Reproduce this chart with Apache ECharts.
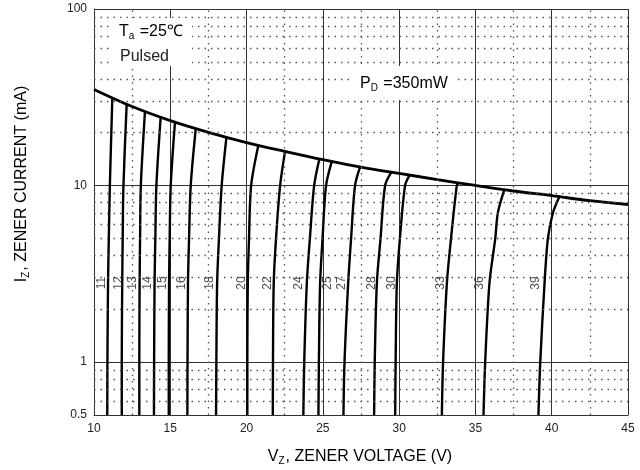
<!DOCTYPE html>
<html><head><meta charset="utf-8">
<script src="https://cdn.jsdelivr.net/npm/echarts@6/dist/echarts.min.js"></script>
<style>html,body{margin:0;padding:0;background:#fff}#c{width:640px;height:470px}</style>
</head><body><div id="c"></div>
<script>
// ---- data ----
const xAxisMin = 10, xAxisMax = 45, xAxisStep = 5;
const yAxisMin = 0.5, yAxisMax = 100;

// power-dissipation limit (PD = 350 mW)
const pdVoltage = [10, 12.5, 15, 17.5, 20, 22.5, 25, 27.5, 30, 32.5, 35, 37.5, 40, 42.5, 45];
const pdCurrent = [35, 28, 23.3, 20, 17.5, 15.6, 14, 12.7, 11.7, 10.8, 10, 9.3, 8.75, 8.2, 7.8];

// zener curves: [voltage (V), current (mA)] pairs
const zenerNames = ['11','12','13','14','15','16','18','20','22','24','25','27','28','30','33','36','39'];
const zenerCurves = [
  [[10.87,0.5],[10.88,1],[10.92,2.8],[10.97,5],[11.04,10],[11.20,31.2]],
  [[11.82,0.5],[11.82,1],[11.85,2.8],[11.88,5],[11.93,10],[12.14,28.8]],
  [[12.97,0.5],[12.97,1],[12.99,2.8],[13.02,5],[13.07,10],[13.34,26.2]],
  [[13.93,0.5],[13.94,1],[13.97,2.8],[14.02,5],[14.09,10],[14.37,24.4]],
  [[14.90,0.5],[14.90,1],[14.92,2.8],[14.96,5],[15.03,10],[15.31,22.9]],
  [[16.12,0.5],[16.13,1],[16.16,2.8],[16.23,5],[16.34,10],[16.67,21.0]],
  [[18.00,0.5],[18.02,1],[18.07,2.8],[18.19,5],[18.37,10],[18.68,18.7]],
  [[20.05,0.5],[20.05,1],[20.08,2.8],[20.16,5],[20.30,10],[20.77,16.85]],
  [[21.72,0.5],[21.73,1],[21.78,2.8],[21.93,5],[22.20,10],[22.52,15.54]],
  [[23.72,0.5],[23.78,1],[23.95,2.8],[24.15,5],[24.43,10],[24.77,14.13]],
  [[24.71,0.5],[24.74,1],[24.82,2.8],[24.98,5],[25.21,10],[25.59,13.68]],
  [[26.35,0.5],[26.42,1],[26.66,2.8],[26.85,5],[27.11,10],[27.44,12.76]],
  [[28.36,0.5],[28.40,1],[28.54,2.8],[28.78,5],[29.08,10],[29.48,11.87]],
  [[29.74,0.5],[29.77,1],[29.85,2.8],[30.05,5],[30.39,10],[30.68,11.41]],
  [[32.80,0.5],[32.88,1],[33.13,2.8],[33.40,5],[33.78,10],[33.89,10.33]],
  [[35.53,0.5],[35.64,1],[35.92,2.8],[36.30,5],[36.47,7],[36.90,9.49]],
  [[39.13,0.5],[39.25,1],[39.53,2.8],[39.75,5],[40.08,7],[40.50,8.64]]
];
// where each curve's name sits (voltage), all at the same current level
const labelVoltage = [10.5, 11.64, 12.54, 13.54, 14.52, 15.75, 17.6, 19.68, 21.41, 23.4, 25.3, 26.24, 28.22, 29.52, 32.7, 35.3, 38.92];
const labelCurrent = 2.8;

// dotted minor grid
const minorCurrents = [0.6,0.7,0.8,0.9,2,3,4,5,6,7,8,9,20,30,40,50,60,70,80,90];
const minorVoltages = [12.5,17.5,22.5,27.5,32.5,37.5,42.5];

// ---- chart ----
const FONT = "'Liberation Sans', Arial, sans-serif";
const chart = echarts.init(document.getElementById('c'), null, {renderer: 'canvas'});

const series = [];
series.push({
  type: 'line', data: [], z: 1, silent: true,
  markLine: {
    silent: true, symbol: ['none','none'], label: {show: false}, animation: false,
    lineStyle: {type: [1.5, 5], color: '#555', width: 1.3},
    data: minorCurrents.map(v => ({yAxis: v})).concat(minorVoltages.map(v => ({xAxis: v})))
  }
});
series.push({
  type: 'line', smooth: 0.35, showSymbol: false, z: 4,
  data: pdVoltage.map((v, i) => [v, pdCurrent[i]]),
  lineStyle: {color: '#000', width: 2.8}
});
zenerCurves.forEach((c, i) => {
  series.push({
    type: 'line', name: zenerNames[i], smooth: 0.3, showSymbol: false, z: 3,
    data: c, lineStyle: {color: '#000', width: 2.4}
  });
});
series.push({
  type: 'scatter', z: 5, symbolSize: 1, itemStyle: {color: 'rgba(0,0,0,0)'},
  data: zenerNames.map((n, i) => [labelVoltage[i], labelCurrent, n]),
  label: {show: true, position: 'inside', rotate: 90, formatter: p => p.data[2],
          fontSize: 12, color: '#222', fontFamily: FONT}
});

const richMain = {fontSize: 16, fontFamily: FONT, color: '#222'};
const richSub = {fontSize: 10, fontFamily: FONT, color: '#222', padding: [9, 1, 0, 0]};

chart.setOption({
  animation: false,
  backgroundColor: '#fff',
  grid: {left: 94, right: 12, top: 9, bottom: 55},
  xAxis: {
    type: 'value', min: xAxisMin, max: xAxisMax, interval: xAxisStep,
    axisLine: {lineStyle: {color: '#333', width: 1}},
    axisTick: {show: false},
    axisLabel: {fontSize: 12, color: '#222', margin: 8, fontFamily: FONT},
    splitLine: {show: true, lineStyle: {color: '#333', width: 1}}
  },
  yAxis: {
    type: 'log', logBase: 10, min: yAxisMin, max: yAxisMax,
    axisLine: {show: true, lineStyle: {color: '#333', width: 1}},
    axisTick: {show: false},
    axisLabel: {fontSize: 12, color: '#222', margin: 7, fontFamily: FONT},
    splitLine: {show: true, lineStyle: {color: '#333', width: 1}}
  },
  series: series,
  graphic: [
    {type: 'rect', z: 50, shape: {x: 110, y: 18, width: 82, height: 48}, style: {fill: '#fff'}},
    {type: 'rect', z: 50, shape: {x: 352, y: 66, width: 106, height: 34}, style: {fill: '#fff'}},
    {type: 'text', z: 51, x: 119, y: 32, style: {
      text: '{m|T}{s|a}{m| =25℃}', align: 'left', verticalAlign: 'middle',
      rich: {m: richMain, s: richSub}}},
    {type: 'text', z: 51, x: 120, y: 57, style: {
      text: 'Pulsed', font: '16px ' + FONT, fill: '#222', align: 'left', verticalAlign: 'middle'}},
    {type: 'text', z: 51, x: 360, y: 84, style: {
      text: '{m|P}{s|D}{m| =350mW}', align: 'left', verticalAlign: 'middle',
      rich: {m: richMain, s: richSub}}},
    {type: 'text', z: 51, x: 360, y: 457, style: {
      text: '{m|V}{s|Z}{m|, ZENER VOLTAGE (V)}', align: 'center', verticalAlign: 'middle',
      rich: {m: richMain, s: richSub}}},
    {type: 'text', z: 51, x: 22, y: 184, rotation: Math.PI / 2, style: {
      text: '{m|I}{s|Z}{m|, ZENER CURRENT (mA)}', align: 'center', verticalAlign: 'middle',
      rich: {m: richMain, s: richSub}}}
  ]
});
</script></body></html>
